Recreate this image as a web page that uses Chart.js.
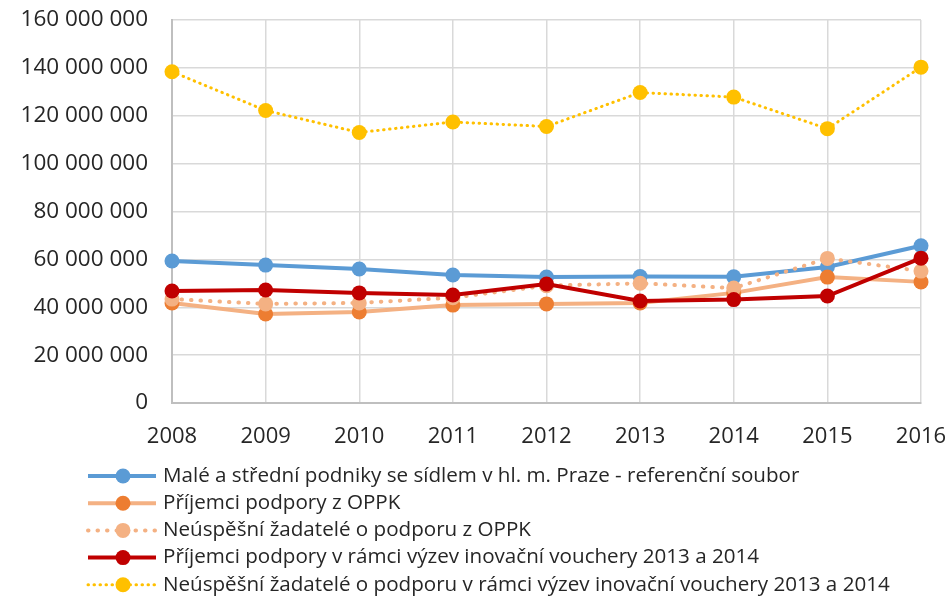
<!DOCTYPE html>
<html>
<head>
<meta charset="utf-8">
<script src="https://cdn.jsdelivr.net/npm/chart.js@4/dist/chart.umd.min.js"></script>
<style>
  html, body { margin: 0; background: #fff; }
  #wrap { width: 948px; height: 596px; }
</style>
</head>
<body>
<div id="wrap"><canvas id="chart"></canvas></div>
<script>
// values (CZK)
const years = ["2008", "2009", "2010", "2011", "2012", "2013", "2014", "2015", "2016"];
const mspPraha = [59300000, 57600000, 56000000, 53500000, 52600000, 52800000, 52700000, 56800000, 65700000];
const prijemciOPPK = [41800000, 37200000, 38000000, 40900000, 41400000, 41800000, 46000000, 52600000, 50600000];
const neuspesniOPPK = [43400000, 41400000, 41800000, 44000000, 49000000, 50000000, 48000000, 60400000, 55100000];
const prijemciVouchery = [46800000, 47200000, 46000000, 45100000, 49700000, 42600000, 43200000, 44700000, 60500000];
const neuspesniVouchery = [138400000, 122200000, 113000000, 117400000, 115500000, 129700000, 127800000, 114600000, 140300000];

const seriesNames = [
  "Malé a střední podniky se sídlem v hl. m. Praze - referenční soubor",
  "Příjemci podpory z OPPK",
  "Neúspěšní žadatelé o podporu z OPPK",
  "Příjemci podpory v rámci výzev inovační vouchery 2013 a 2014",
  "Neúspěšní žadatelé o podporu v rámci výzev inovační vouchery 2013 a 2014"
];

const FONT = "'Open Sans', sans-serif";

function fmt(v) {
  return String(v).replace(/\B(?=(\d{3})+(?!\d))/g, " ");
}

function series(i, values, line, marker, width, dash) {
  return {
    label: seriesNames[i],
    data: values,
    borderColor: line,
    backgroundColor: marker,
    pointBackgroundColor: marker,
    pointBorderColor: marker,
    pointRadius: 7.5,
    pointBorderWidth: 0,
    borderWidth: width,
    borderDash: dash,
    borderCapStyle: dash.length ? "round" : "butt",
    tension: 0,
    fill: false,
    clip: false,
    order: 5 - i          // later series on top, like the original
  };
}

// legend: one row per series, drawn below the x axis
const rowLegend = {
  id: "rowLegend",
  afterDraw(chart) {
    const ctx = chart.ctx;
    ctx.save();
    chart.data.datasets.forEach((ds, i) => {
      const y = 476 + i * 27.2;
      ctx.beginPath();
      ctx.strokeStyle = ds.borderColor;
      ctx.lineWidth = ds.borderWidth;
      ctx.lineCap = ds.borderCapStyle;
      ctx.setLineDash(ds.borderDash);
      ctx.moveTo(88, y);
      ctx.lineTo(156, y);
      ctx.stroke();
      ctx.setLineDash([]);
      ctx.beginPath();
      ctx.fillStyle = ds.pointBackgroundColor;
      ctx.arc(123, y, 7.5, 0, Math.PI * 2);
      ctx.fill();
      ctx.fillStyle = "#262626";
      ctx.font = "20.6px " + FONT;
      ctx.textBaseline = "middle";
      ctx.textAlign = "left";
      ctx.fillText(ds.label, 163, y);
    });
    ctx.restore();
  }
};

new Chart(document.getElementById("chart"), {
  type: "line",
  data: {
    labels: years,
    datasets: [
      series(0, mspPraha, "#5B9BD5", "#5B9BD5", 4, []),
      series(1, prijemciOPPK, "#F4B183", "#ED7D31", 4, []),
      series(2, neuspesniOPPK, "#F4B183", "#F4B183", 4, [0.5, 9]),
      series(3, prijemciVouchery, "#C00000", "#C00000", 4, []),
      series(4, neuspesniVouchery, "#FFC000", "#FFC000", 3, [0.5, 5.5])
    ]
  },
  options: {
    responsive: true,
    maintainAspectRatio: false,
    animation: false,
    layout: { padding: { top: 20, right: 27, left: 0, bottom: 0 } },
    plugins: {
      legend: { display: false },
      tooltip: { enabled: false }
    },
    scales: {
      x: {
        offset: false,
        grid: { color: "#d9d9d9", lineWidth: 1.5, drawTicks: false },
        border: { color: "#bfbfbf", width: 2 },
        ticks: { color: "#262626", font: { family: FONT, size: 22 }, padding: 21, maxRotation: 0 },
        afterFit: s => { s.height = 193; s.paddingLeft = 0; s.paddingRight = 0; }
      },
      y: {
        min: 0,
        max: 160000000,
        grid: { color: "#d9d9d9", lineWidth: 1.5, drawTicks: false },
        border: { color: "#bfbfbf", width: 2 },
        ticks: {
          stepSize: 20000000,
          color: "#262626",
          font: { family: FONT, size: 22.5 },
          padding: 24,
          callback: v => fmt(v)
        },
        afterFit: s => { s.width = 172; s.paddingTop = 0; s.paddingBottom = 0; }
      }
    }
  },
  plugins: [rowLegend]
});
</script>
</body>
</html>
